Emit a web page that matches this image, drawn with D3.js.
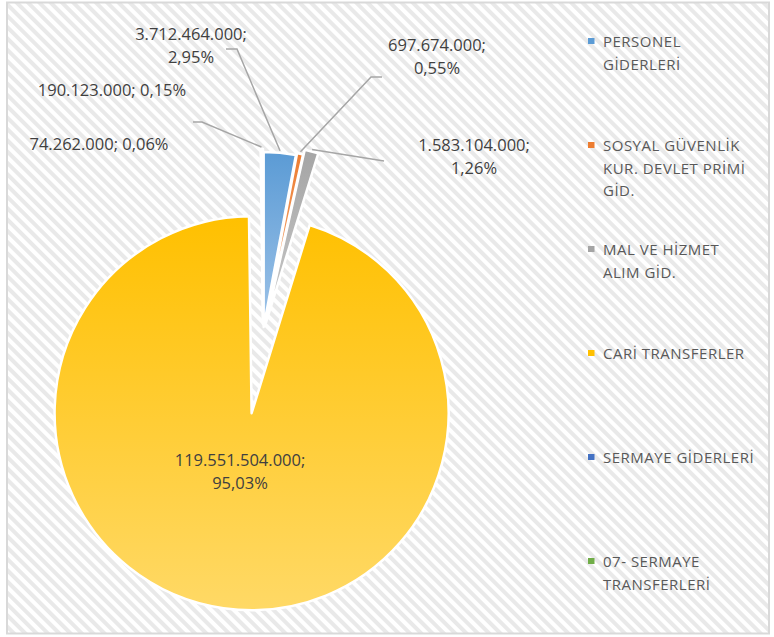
<!DOCTYPE html>
<html><head><meta charset="utf-8">
<script src="https://cdn.jsdelivr.net/npm/d3@7/dist/d3.min.js"></script>
<style>html,body{margin:0;padding:0;background:#fff;}svg{display:block;}</style>
</head><body><div id="chart"></div>
<script>
// ---- data ----
const categories = ["PERSONEL\nGİDERLERİ", "SOSYAL GÜVENLİK\nKUR. DEVLET PRİMİ\nGİD.", "MAL VE HİZMET\nALIM GİD.", "CARİ TRANSFERLER", "SERMAYE GİDERLERİ", "07- SERMAYE\nTRANSFERLERİ"];
const values = [3712464000, 697674000, 1583104000, 119551504000, 190123000, 74262000];
const colorsTop = ["#5b9bd5", "#ed7d31", "#a5a5a5", "#ffc000", "#4472c4", "#70ad47"];
const colorsBottom = ["#9ec3e8", "#f4b183", "#c9c9c9", "#ffd966", "#8faadc", "#a9d18e"];
const labelOneLine = [false, false, false, false, true, true];

// ---- layout ----
const W = 774, H = 637;
const pieCenter = [263, 334];
const explode = [7, 9, 12, 80, 10, 10];
const radii = [175, 175, 177, 197, 175, 175];
const labelPos = [[191, 33], [437, 44], [474, 144], [240, 459], [112, 89], [99, 143]];
const leaderElbow = [[237, 49], [371, 77], [384, 161], null, [202, 122], null];
const leaderEnd = [[226, 49], [382, 77], [384, 161], null, [193, 122], null];
const legendX = 588, legendTop = 41, legendStep = 104, legendLineH = 22.5;

const loc = d3.formatLocale({decimal: ",", thousands: ".", grouping: [3], currency: ["", ""]});
const fmtVal = loc.format(",.0f");
const fmtPct = loc.format(".2%");

const svg = d3.select("#chart").append("svg").attr("width", W).attr("height", H);
const defs = svg.append("defs");
const pat = defs.append("pattern").attr("id", "hatch").attr("patternUnits", "userSpaceOnUse")
  .attr("width", 8).attr("height", 8).attr("patternTransform", "rotate(-45)");
pat.append("rect").attr("width", 8).attr("height", 8).attr("fill", "#ffffff");
pat.append("rect").attr("width", 4).attr("height", 8).attr("fill", "#e9e9e9");

svg.append("rect").attr("x", 7).attr("y", 2.5).attr("width", 762).attr("height", 631)
  .attr("fill", "url(#hatch)").attr("stroke", "#d9d9d9").attr("stroke-width", 2);

colorsTop.forEach((c, i) => {
  const g = defs.append("linearGradient").attr("id", "grad" + i).attr("x1", 0).attr("y1", 0).attr("x2", 0).attr("y2", 1);
  g.append("stop").attr("offset", "0%").attr("stop-color", c);
  g.append("stop").attr("offset", "100%").attr("stop-color", colorsBottom[i]);
});

const total = d3.sum(values);
const pie = d3.pie().sort(null).value(d => d)(values);

const gPie = svg.append("g");
const slices = pie.map((p, i) => {
  const mid = (p.startAngle + p.endAngle) / 2;
  const ox = pieCenter[0] + Math.sin(mid) * explode[i];
  const oy = pieCenter[1] - Math.cos(mid) * explode[i];
  return {p, i, mid, ox, oy};
});
slices.slice().sort((a, b) => b.p.value - a.p.value).forEach(s => {
  const arc = d3.arc().innerRadius(0).outerRadius(radii[s.i]);
  gPie.append("path").attr("d", arc(s.p))
    .attr("transform", `translate(${s.ox},${s.oy})`)
    .attr("fill", `url(#grad${s.i})`)
    .attr("stroke", "#ffffff").attr("stroke-width", 2.5).attr("stroke-linejoin", "round");
});

// leader lines
const gLines = svg.append("g");
slices.forEach(s => {
  if (!leaderElbow[s.i]) return;
  const r = radii[s.i] + 2;
  const sx = s.ox + Math.sin(s.mid) * r, sy = s.oy - Math.cos(s.mid) * r;
  const pts = [[sx, sy], leaderElbow[s.i], leaderEnd[s.i]];
  gLines.append("path").attr("d", d3.line()(pts)).attr("fill", "none")
    .attr("stroke", "#a6a6a6").attr("stroke-width", 1.5);
});

// data labels
const gLab = svg.append("g").attr("font-family", "'Open Sans', sans-serif").attr("font-size", 16.5)
  .attr("fill", "#404040").attr("text-anchor", "middle");
slices.forEach(s => {
  const v = fmtVal(s.p.value) + ";";
  const pc = fmtPct(s.p.value / total);
  const lines = labelOneLine[s.i] ? [v + " " + pc] : [v, pc];
  const t = gLab.append("text").attr("x", labelPos[s.i][0]).attr("y", labelPos[s.i][1]);
  lines.forEach((l, k) => t.append("tspan").attr("x", labelPos[s.i][0]).attr("y", labelPos[s.i][1] + k * 23)
    .attr("dominant-baseline", "central").text(l));
});

// legend
const gLeg = svg.append("g").attr("font-family", "'Open Sans', sans-serif").attr("font-size", 15)
  .attr("letter-spacing", 0.5).attr("fill", "#595959");
categories.forEach((c, i) => {
  const y0 = legendTop + i * legendStep;
  gLeg.append("rect").attr("x", legendX).attr("y", y0 - 3).attr("width", 6.5).attr("height", 6)
    .attr("fill", colorsTop[i]);
  const t = gLeg.append("text");
  c.split("\n").forEach((l, k) => t.append("tspan").attr("x", legendX + 15).attr("y", y0 + k * legendLineH)
    .attr("dominant-baseline", "central").text(l));
});
</script></body></html>
